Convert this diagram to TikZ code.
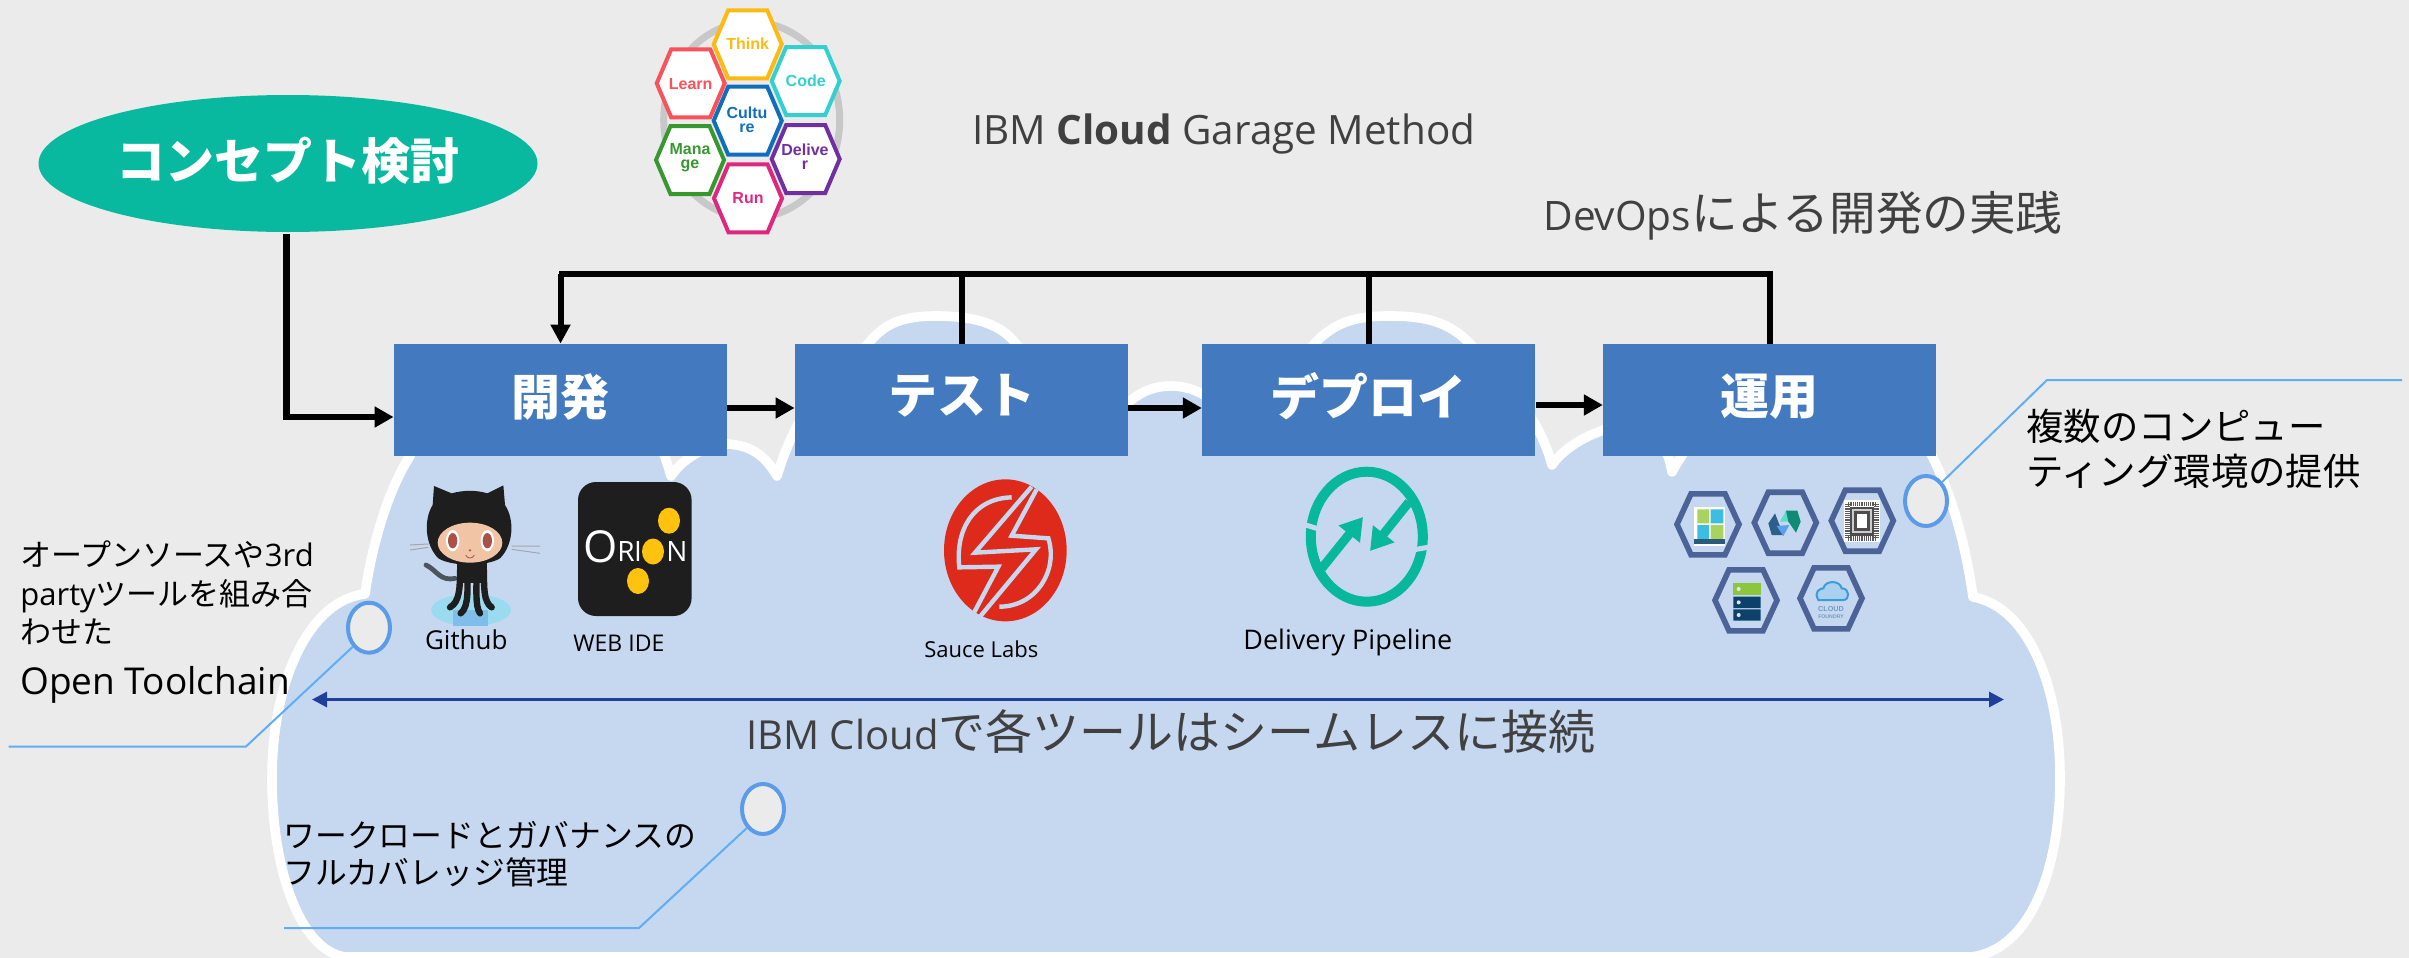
\documentclass[tikz,border=0pt]{standalone}
\usepackage{fontspec}
\setmainfont{Open Sans}
\newfontfamily\jp{Noto Sans CJK JP}
\newfontfamily\arial{Liberation Sans}
\usetikzlibrary{arrows.meta,shapes.geometric}
\definecolor{bgc}{HTML}{EBEBEB}
\definecolor{cloudc}{HTML}{C6D8F0}
\definecolor{boxc}{HTML}{4279BF}
\definecolor{tealc}{HTML}{08B9A0}
\definecolor{darkt}{HTML}{404040}
\definecolor{calloutc}{HTML}{5FADF5}
\definecolor{ovalc}{HTML}{5B9BE8}
\definecolor{navyc}{HTML}{203F9A}
\definecolor{opsc}{HTML}{4B6396}
\definecolor{redc}{HTML}{DE2A1A}
\definecolor{goldc}{HTML}{FFC20E}
\definecolor{ringc}{HTML}{C8C8C8}
\definecolor{cthink}{HTML}{FDBA12}
\definecolor{clearn}{HTML}{F9525A}
\definecolor{ccode}{HTML}{34CFCF}
\definecolor{cculture}{HTML}{0F6FBE}
\definecolor{cmanage}{HTML}{38982F}
\definecolor{cdeliver}{HTML}{7030A0}
\definecolor{crun}{HTML}{E0277F}
\definecolor{pipec}{HTML}{08B89C}
\definecolor{catc}{HTML}{1E1E1E}
\definecolor{puddle}{HTML}{9ADBF0}
\definecolor{puddleb}{HTML}{7FBDEA}
\definecolor{skin}{HTML}{F2C4A6}
\definecolor{eyec}{HTML}{A9524A}
\definecolor{tailc}{HTML}{4A5560}
\definecolor{tgreen}{HTML}{A9D25E}
\definecolor{tcyan}{HTML}{3DBDE0}
\definecolor{tbase}{HTML}{2C5A7A}
\definecolor{nb1}{HTML}{2E5F8A}
\definecolor{nb2}{HTML}{5B9FEF}
\definecolor{nb3}{HTML}{5FDCC8}
\definecolor{nb4}{HTML}{0F8B75}
\definecolor{sgreen}{HTML}{8CC63F}
\definecolor{snavy}{HTML}{0B416B}
\definecolor{cfc}{HTML}{3D9BD8}
\definecolor{cff}{HTML}{A9D0EE}
\definecolor{cft}{HTML}{6E9CC4}
\newcommand{\fs}[1]{\fontsize{#1}{#1}\selectfont}
\newcommand{\hexshape}[6]{%
  \draw[shift={(#1,#2)},#6] (-#3,0)--(-#4,-#5)--(#4,-#5)--(#3,0)--(#4,#5)--(-#4,#5)--cycle;}
\tikzset{
  stepbox/.style={rectangle,fill=boxc,text=white,inner sep=0pt,minimum width=166.5pt,minimum height=56pt,font=\jp\bfseries\fs{24.5}},
  flow/.style={line width=3.4pt,draw=black,-{Triangle[length=9.5pt,width=10pt]}},
  feed/.style={line width=3pt,draw=black},
  callout/.style={draw=calloutc,line width=1pt},
  marker/.style={ellipse,draw=ovalc,fill=bgc,line width=2pt,minimum width=21pt,minimum height=25pt,inner sep=0pt},
  txt/.style={anchor=base west,inner sep=0pt,text=black},
  dtxt/.style={anchor=base west,inner sep=0pt,text=darkt},
  loghex/.style={fill=white,line width=2pt},
  hexlabel/.style={inner sep=0pt,align=center,font=\arial\bfseries\fs{8}},
  opshex/.style={draw=opsc,line width=2.8pt,fill=none},
}
\begin{document}
\begin{tikzpicture}[x=0.5pt,y=-0.5pt]
\useasboundingbox (0,0) rectangle (2409,958);
\fill[bgc] (0,0) rectangle (2409,958);
% cloud
\draw[fill=cloudc,draw=white,line width=4.8pt,line join=round]
 (345,957) -- (1971,957)
 .. controls (2030,950) and (2060,870) .. (2060,778)
 .. controls (2060,680) and (2025,606) .. (1973,597)
 .. controls (1965,540) and (1950,490) .. (1930,452)
 .. controls (1900,365) and (1730,365) .. (1691,440)
 .. controls (1685,452) and (1677,462) .. (1672,472)
 .. controls (1665,430) and (1640,420) .. (1610,428)
 .. controls (1585,435) and (1562,450) .. (1552,465)
 .. controls (1540,420) and (1510,385) .. (1470,344)
 .. controls (1450,322) and (1425,316) .. (1390,316)
 .. controls (1355,316) and (1335,322) .. (1314,344)
 .. controls (1290,380) and (1265,410) .. (1245,445)
 .. controls (1235,420) and (1210,386) .. (1171,386)
 .. controls (1140,386) and (1120,405) .. (1095,445)
 .. controls (1075,410) and (1040,370) .. (1016,344)
 .. controls (1000,322) and (970,316) .. (936,316)
 .. controls (905,316) and (885,322) .. (868,344)
 .. controls (835,375) and (800,400) .. (777,476)
 .. controls (765,455) and (750,445) .. (727,444)
 .. controls (712,444) and (685,455) .. (671,476)
 .. controls (665,455) and (640,365) .. (550,365)
 .. controls (480,365) and (430,410) .. (410,456)
 .. controls (388,490) and (372,545) .. (365,594)
 .. controls (310,600) and (272,680) .. (272,778)
 .. controls (272,870) and (300,950) .. (345,957) -- cycle;
% logo ring and hexagons
\draw[draw=ringc,line width=3.5pt] (751.7,120) circle[x radius=88,y radius=98];
\hexshape{747.7}{120.7}{34}{19.5}{34}{loghex,draw=cculture}
\hexshape{690.7}{83.3}{34}{19.5}{34}{loghex,draw=clearn}
\hexshape{690}{160}{34}{19.5}{34}{loghex,draw=cmanage}
\hexshape{805.7}{159}{34}{19.5}{34}{loghex,draw=cdeliver}
\hexshape{748}{198.3}{34}{19.5}{34}{loghex,draw=crun}
\hexshape{805.7}{81}{34}{19.5}{34}{loghex,draw=ccode}
\hexshape{747.7}{44.3}{34}{19.5}{34}{loghex,draw=cthink}
\node[hexlabel,text=cthink] (hthink) at (747.7,44) {Think};
\node[hexlabel,text=clearn] (hlearn) at (690.7,84) {Learn};
\node[hexlabel,text=ccode] (hcode) at (805.7,81) {Code};
\node[hexlabel,text=cculture] (hculture) at (747,120) {Cultu\\[-1pt]re};
\node[hexlabel,text=cmanage] (hmanage) at (690,158) {Mana\\[-1pt]ge};
\node[hexlabel,text=cdeliver] (hdeliver) at (805,157) {Delive\\[-1pt]r};
\node[hexlabel,text=crun] (hrun) at (748,198) {Run};
% concept
\node[ellipse,fill=tealc,text=white,inner sep=0pt,minimum width=249.5pt,minimum height=68.5pt,font=\jp\bfseries\fs{24.5}] (concept) at (288,163.5) {\raisebox{5.5pt}{コンセプト検討}};
% titles
\node[dtxt,font=\fs{20.2}] (garage) at (972,144) {IBM \textbf{Cloud} Garage Method};
\node[dtxt,font=\fs{20.3}] (devops) at (1543,230) {DevOps{\jp\fs{23.3}による開発の実践}};
% steps
\node[stepbox] (b1) at (560.5,400) {\raisebox{5.8pt}{開発}};
\node[stepbox] (b2) at (961.5,400) {\raisebox{5.8pt}{テスト}};
\node[stepbox] (b3) at (1368.75,400) {\raisebox{5.8pt}{デプロイ}};
\node[stepbox] (b4) at (1769.75,400) {\raisebox{5.8pt}{運用}};
% connectors
\coordinate (fbl) at (559,274);
\coordinate (fbr) at (1773,274);
\draw[feed] (fbl) -- (fbr);
\draw[feed] (b2.north) -- (b2.north |- fbl);
\draw[feed] (b3.north) -- (b3.north |- fbl);
\draw[feed] (b4.north) -- (b4.north |- fbl);
\draw[feed,-{Triangle[length=9.5pt,width=9.5pt]}] (b1.north |- fbl) -- (b1.north);
\draw[flow] ([yshift=-4pt]b1.east) -- ([yshift=-4pt]b2.west);
\draw[flow] ([yshift=-4pt]b2.east) -- ([yshift=-4pt]b3.west);
\draw[flow] ([yshift=-2.5pt]b3.east) -- ([yshift=-2.5pt]b4.west);
\draw[flow] ([xshift=-0.8pt,yshift=-1pt]concept.south) |- ([yshift=-8.5pt]b1.west);
% github logo
\begin{scope}[shift={(410,470)},x=0.16667pt,y=-0.16667pt]
 \fill[puddle] (183,420) circle[x radius=120,y radius=48];
 \fill[puddleb] (130,420) rectangle (235,468);
 \draw[black!35,line width=0.5pt] (0,225)--(55,222) (0,240)--(55,232) (305,228)--(390,228) (305,238)--(390,250);
 \draw[tailc,line width=2.4pt,line cap=round] (135,325) .. controls (90,335) and (80,300) .. (48,285);
 \fill[catc] (140,280) rectangle (230,340);
 \draw[catc,line width=3.2pt,line cap=round] (150,300) .. controls (150,350) and (150,395) .. (120,412);
 \draw[catc,line width=3.2pt,line cap=round] (172,300) .. controls (172,350) and (178,410) .. (152,430);
 \draw[catc,line width=3.2pt,line cap=round] (200,300) .. controls (200,350) and (195,410) .. (210,430);
 \draw[catc,line width=3.2pt,line cap=round] (222,300) .. controls (222,350) and (220,395) .. (245,412);
 \fill[catc] (68,105) -- (72,48) -- (125,70) .. controls (160,60) and (200,60) .. (232,70) -- (280,46) -- (285,105)
   .. controls (315,150) and (310,225) .. (270,265) .. controls (230,290) and (125,290) .. (85,265)
   .. controls (45,225) and (40,150) .. (68,105) -- cycle;
 \fill[skin] (180,218) circle[x radius=97,y radius=60];
 \fill[white] (128,212) circle[x radius=20,y radius=32] (232,212) circle[x radius=20,y radius=32];
 \fill[eyec] (128,212) circle[x radius=14,y radius=23] (232,212) circle[x radius=14,y radius=23];
 \fill[eyec] (180,241) circle[radius=4];
 \draw[eyec,line width=0.4pt] (167,255) .. controls (172,267) and (188,267) .. (193,255);
\end{scope}
% orion logo
\fill[catc,rounded corners=9pt] (578,482) rectangle (691.6,616);
\node[inner sep=0pt,text=white,font=\fs{22}] (orO) at (601,547) {O};
\node[inner sep=0pt,text=white,font=\fs{14}] (orR) at (626,551) {R};
\node[inner sep=0pt,text=white,font=\fs{14}] (orI) at (638,551) {I};
\node[inner sep=0pt,text=white,font=\fs{14}] (orN) at (677,551) {N};
\fill[goldc] (669,520.7) circle[x radius=11,y radius=13] (653,551.5) circle[x radius=11,y radius=13] (638,581) circle[x radius=11,y radius=13];
% sauce labs logo
\begin{scope}[shift={(930,470)},x=0.16667pt,y=-0.16667pt]
 \fill[redc] (226,241) circle[x radius=184,y radius=213];
 \draw[cloudc,line width=2.2pt,line join=miter] (305,50)--(135,248)--(318,238)--(150,440);
 \draw[cloudc,line width=2.2pt,line join=miter] (245,82) .. controls (130,85) and (75,180) .. (88,292) -- (205,290) -- (132,428);
 \draw[cloudc,line width=2.2pt,line join=miter] (320,58)--(245,197)--(355,205) .. controls (385,300) and (320,410) .. (208,410);
\end{scope}
% delivery pipeline logo
\draw[pipec,line width=5pt] (1366.8,536.7) circle[x radius=56,y radius=65];
\draw[cloudc,line width=2.5pt] (1296,522) -- (1322,530);
\draw[cloudc,line width=2.5pt] (1400,552) -- (1436,546);
\draw[pipec,line width=4.5pt,-{Triangle[length=11pt,width=13pt]}] (1322,568) -- (1363,517);
\draw[pipec,line width=4.5pt,-{Triangle[length=11pt,width=13pt]}] (1409,502) -- (1370,551);
% operations icons
\hexshape{1708}{524.3}{31}{17}{30.5}{opshex}
\hexshape{1785.3}{522.7}{31}{17}{30.5}{opshex}
\hexshape{1862.3}{520.7}{31}{17}{30.5}{opshex}
\hexshape{1746}{600.3}{31}{17}{30.5}{opshex}
\hexshape{1831}{598.3}{31}{17}{30.5}{opshex}
\begin{scope}[shift={(1660,480)},x=0.16667pt,y=-0.16667pt]
 \fill[white] (102,82) rectangle (195,197);
 \fill[tgreen] (112,88) rectangle (147,130) (152,135) rectangle (190,178);
 \fill[tcyan] (152,88) rectangle (190,130) (112,135) rectangle (147,178);
 \fill[tbase] (102,178) rectangle (195,192);
 \fill[nb1] (325,130)--(345,100)--(370,165)--(335,165)--cycle;
 \fill[nb2] (350,138)--(388,135)--(370,168)--cycle;
 \fill[nb3] (360,125)--(378,92)--(400,125)--cycle;
 \fill[nb4] (378,92)--(412,92)--(422,125)--(408,158)--(385,125)--cycle;
 \fill[white] (552,60) rectangle (660,187);
 \draw[black!65,line width=2.4pt,dash pattern=on 0.6pt off 0.5pt] (562,72) rectangle (650,175);
 \fill[black!70] (570,80) rectangle (642,167);
 \fill[black!20] (577,87) rectangle (635,160);
 \fill[black!70] (582,93) rectangle (630,154);
 \fill[white] (590,102) rectangle (622,145);
 \fill[sgreen] (220,310) rectangle (302,345);
 \fill[snavy] (220,350) rectangle (302,384) (220,388) rectangle (302,422);
 \fill[black!10] (236,327) circle[radius=6] (236,367) circle[radius=6] (236,405) circle[radius=6];
 \draw[fill=cff,draw=cfc,line width=1pt]
   (475,360) .. controls (460,335) and (480,325) .. (490,325) .. controls (495,300) and (540,300) .. (545,325)
   .. controls (570,325) and (570,360) .. (550,360) -- cycle;
 \node[inner sep=0pt,text=cft,font=\arial\bfseries\fs{3.6}] (cfa) at (513,388) {CLOUD};
 \node[inner sep=0pt,text=cft,font=\arial\bfseries\fs{2.6}] (cfb) at (513,410) {FOUNDRY};
\end{scope}
% labels
\node[txt,font=\fs{13}] (lgit) at (424.6,649) {Github};
\node[txt,font=\fs{11.5}] (lweb) at (573,651) {WEB IDE};
\node[txt,font=\fs{11}] (lsauce) at (924,657) {Sauce Labs};
\node[txt,font=\fs{13.5}] (ldel) at (1243,649) {Delivery Pipeline};
% seamless arrow
\coordinate (sl) at (312,699.5);
\coordinate (sr) at (2004,699.5);
\draw[navyc,line width=1.5pt,{Triangle[length=7.5pt,width=7.5pt]}-{Triangle[length=7.5pt,width=7.5pt]}] (sl) -- (sr);
\node[dtxt,font=\fs{20}] (seam) at (746,749) {IBM Cloud{\jp\fs{23.5}で各ツールはシームレスに接続}};
% callouts
\node[marker] (ovL) at (369,627.7) {};
\node[marker] (ovB) at (763,809) {};
\node[marker] (ovR) at (1926,501) {};
\coordinate (cL1) at (246,746.5);
\coordinate (cL2) at (8.7,746.5);
\coordinate (cB1) at (639,928);
\coordinate (cB2) at (284,928);
\coordinate (cR1) at (2047,380);
\coordinate (cR2) at (2402,380);
\draw[callout] (ovL.south west) -- (cL1) -- (cL2);
\draw[callout] (ovB.south west) -- (cB1) -- (cB2);
\draw[callout] (ovR.north east) -- (cR1) -- (cR2);
% callout texts
\node[txt,font=\fs{15.5}] (t1a) at (20,566) {{\jp オープンソースや}3rd};
\node[txt,font=\fs{15.5}] (t1b) at (20,605) {party{\jp ツールを組み合}};
\node[txt,font=\fs{15.5}] (t1c) at (20,643) {{\jp わせた}};
\node[txt,font=\fs{18.5}] (t1d) at (20,694) {Open Toolchain};
\node[txt,font=\jp\fs{15.9}] (t2a) at (283,847) {ワークロードとガバナンスの};
\node[txt,font=\jp\fs{15.9}] (t2b) at (283,884.5) {フルカバレッジ管理};
\node[txt,font=\jp\fs{18.7}] (t3a) at (2026,440) {複数のコンピュー};
\node[txt,font=\jp\fs{18.7}] (t3b) at (2026,485) {ティング環境の提供};
\end{tikzpicture}
\end{document}
